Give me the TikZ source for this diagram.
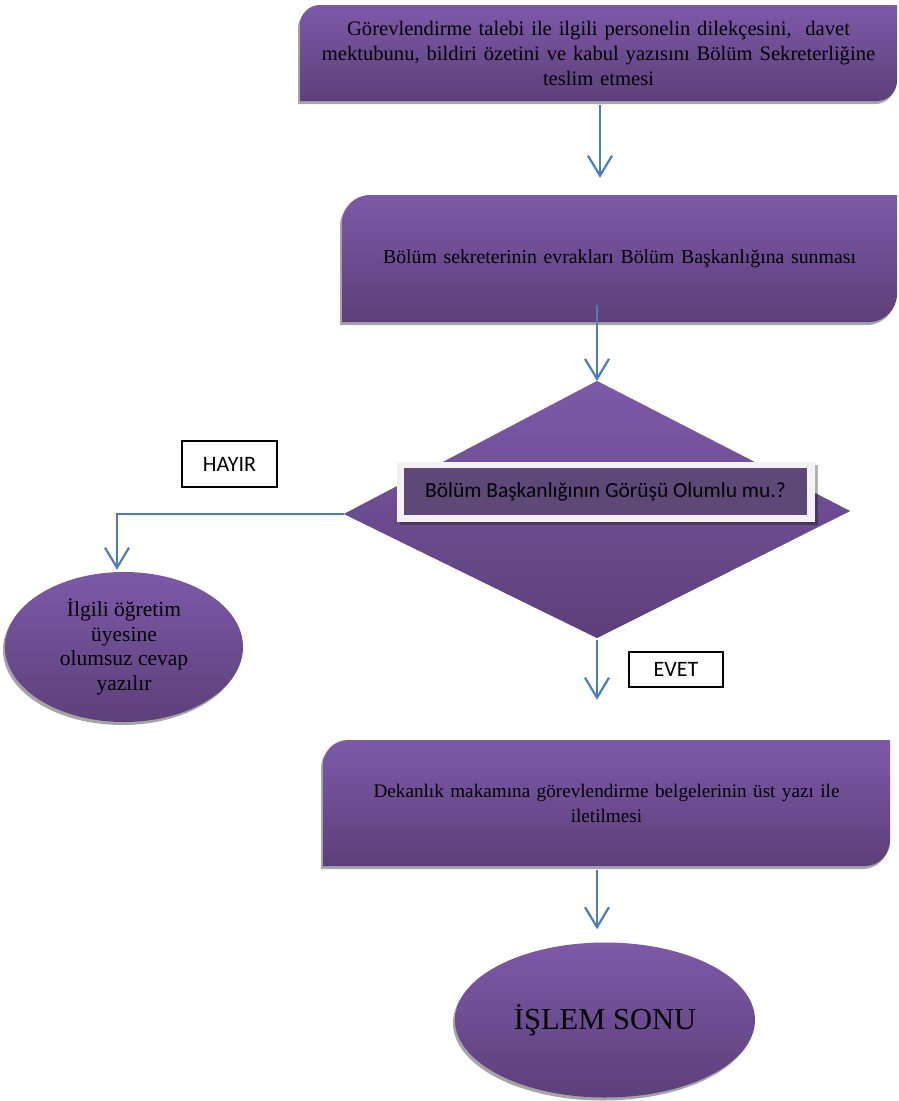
\documentclass[tikz,border=0pt]{standalone}
\usepackage{fontspec}
\setmainfont{Liberation Serif}
\newfontfamily\calfont{Carlito}
\usetikzlibrary{arrows.meta,calc,shapes.geometric,shadows}
\definecolor{ptop}{HTML}{7D59A9}
\definecolor{pbot}{HTML}{5C4079}
\definecolor{shad}{HTML}{A5A5A5}
\definecolor{lblue}{HTML}{4A7EBB}
\definecolor{qin}{HTML}{5E4878}
\definecolor{qframe}{HTML}{F2F2F2}
\newcommand\mypurplebox[5]{%
  \fill[shad,xshift=-2pt,yshift=-3pt] (#1,#4) -- (#1,{#2+#5}) .. controls (#1,{#2+0.448*#5}) and ({#1+0.448*#5},#2) .. ({#1+#5},#2) -- (#3,#2) -- (#3,{#4-#5}) .. controls (#3,{#4-0.448*#5}) and ({#3-0.448*#5},#4) .. ({#3-#5},#4) -- cycle;
  \shade[top color=ptop,bottom color=pbot] (#1,#4) -- (#1,{#2+#5}) .. controls (#1,{#2+0.448*#5}) and ({#1+0.448*#5},#2) .. ({#1+#5},#2) -- (#3,#2) -- (#3,{#4-#5}) .. controls (#3,{#4-0.448*#5}) and ({#3-0.448*#5},#4) .. ({#3-#5},#4) -- cycle;
}
\tikzset{
  arr/.style={draw=lblue,line width=2.2pt,-{Straight Barb[length=20pt,width=24pt,line width=2.2pt]}},
  boxtxt/.style={inner sep=0pt,align=center},
  ell/.style={ellipse,inner sep=0pt,align=center,top color=ptop,bottom color=pbot,
    drop shadow={shadow xshift=-2pt,shadow yshift=-3pt,fill=shad,opacity=1}},
  lab/.style={draw=black,line width=1.3pt,fill=white,inner sep=0pt,font=\calfont\fontsize{22pt}{26pt}\selectfont}
}
\begin{document}
\begin{tikzpicture}[x=1pt,y=-1pt]
\useasboundingbox (0,0) rectangle (898,1101);
\fill[white] (0,0) rectangle (898,1101);

% Box 1
\mypurplebox{300}{5}{897}{101}{20}
\node[boxtxt,minimum width=597pt,minimum height=96pt,text width=590pt,font=\fontsize{20.6pt}{25pt}\selectfont] (b1) at (598.5,53)
 {Görevlendirme talebi ile ilgili personelin dilekçesini,\ \ davet\\ mektubunu, bildiri özetini ve kabul yazısını Bölüm Sekreterliğine\\ teslim etmesi};

% Box 2
\mypurplebox{342}{195}{897}{322}{28}
\node[boxtxt,minimum width=555pt,minimum height=127pt,text width=545pt,font=\fontsize{19.8pt}{25pt}\selectfont] (b2) at (619.5,258.5)
 {Bölüm sekreterinin evrakları Bölüm Başkanlığına sunması};

% Diamond
\coordinate (dt) at (597,381);
\coordinate (dr) at (850,511);
\coordinate (db) at (597,638);
\coordinate (dl) at (344,514);
\fill[shad,xshift=-2pt,yshift=-3pt] (dt) -- (dr) -- (db) -- (dl) -- cycle;
\shade[top color=ptop,bottom color=pbot] (dt) -- (dr) -- (db) -- (dl) -- cycle;
\fill[black,opacity=0.3] (400,465) rectangle (818,525);
\fill[qframe] (397,462) rectangle (815,522);
\node[fill=qin,minimum width=403pt,minimum height=47pt,inner sep=0pt,font=\calfont\fontsize{21.5pt}{24pt}\selectfont] (q) at (605.5,491.5)
 {Bölüm Başkanlığının Görüşü Olumlu mu.?};

% Labels
\node[lab,minimum width=95pt,minimum height=46pt] (hayir) at (229.5,464) {HAYIR};
\node[lab,minimum width=94pt,minimum height=35pt] (evet) at (676,669.5) {EVET};

% Left ellipse
\node[ell,minimum width=238pt,minimum height=150pt,font=\fontsize{21.5pt}{24.5pt}\selectfont] (e1) at (124,647)
 {İlgili öğretim\\ üyesine\\ olumsuz cevap\\ yazılır};

% Box 3
\mypurplebox{323}{740}{890}{866}{25}
\node[boxtxt,minimum width=567pt,minimum height=126pt,text width=555pt,font=\fontsize{19.2pt}{25pt}\selectfont] (b3) at (606.5,803)
 {Dekanlık makamına görevlendirme belgelerinin üst yazı ile\\ iletilmesi};

% End ellipse
\node[ell,minimum width=300pt,minimum height=155pt,font=\fontsize{30.5pt}{34pt}\selectfont] (e2) at (605,1020)
 {İŞLEM SONU};

% Connectors
\coordinate (hl) at (117,514);
\draw[arr,shorten <=4pt,shorten >=17pt] (b1.south -| 600,0) -- (b2.north -| 600,0);
\draw[arr] ($(b2.south -| dt)+(0,-17)$) -- (dt);
\draw[arr,shorten <=2pt,shorten >=40pt] (db) -- (db |- b3.north);
\draw[arr,shorten <=4pt,shorten >=13pt] (b3.south -| db) -- (db |- e2.north);
\draw[arr,shorten >=2pt] (dl) -- (hl) -- (hl |- e1.north);
\end{tikzpicture}
\end{document}
